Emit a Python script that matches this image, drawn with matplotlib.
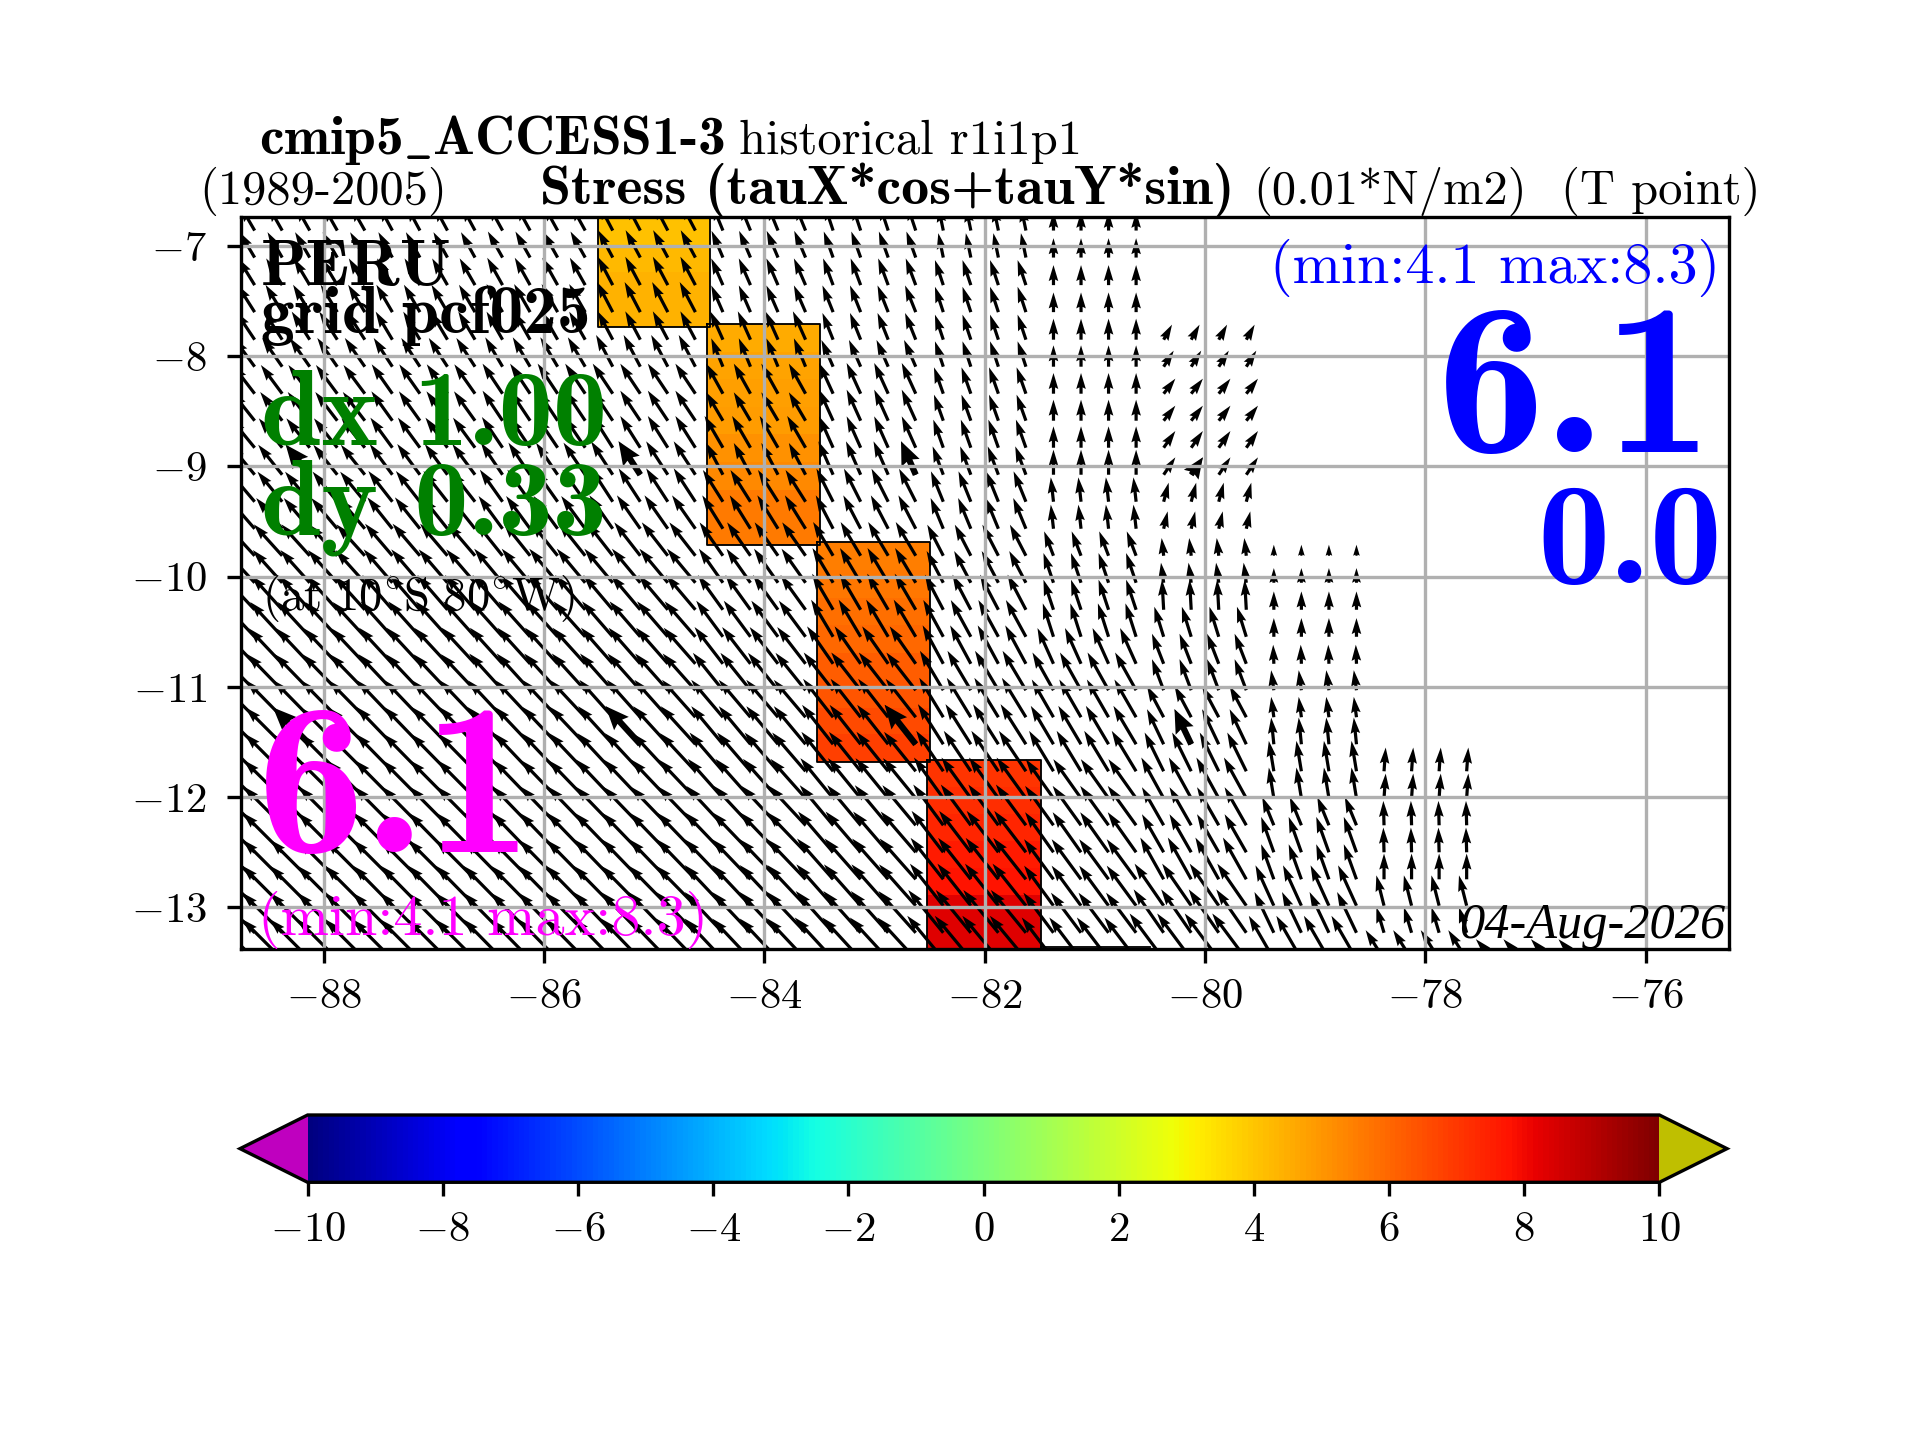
import numpy as np
import matplotlib
matplotlib.use("Agg")
import matplotlib.pyplot as plt
from matplotlib.colors import Normalize
from matplotlib.cm import ScalarMappable

plt.rcParams['font.family'] = ['cmr10', 'DejaVu Serif']
plt.rcParams['mathtext.fontset'] = 'cm'
plt.rcParams['axes.formatter.use_mathtext'] = True
plt.rcParams['axes.unicode_minus'] = False

BOLD = ['cmb10', 'cmr10', 'DejaVu Serif']

x_ticks = [-88, -86, -84, -82, -80, -78, -76]
y_ticks = [-13, -12, -11, -10, -9, -8, -7]
cb_ticks = [-10, -8, -6, -4, -2, 0, 2, 4, 6, 8, 10]

# coloured coastal strip: lon edges, lat edges (top to bottom), values
col_lon = [[-85.511, -84.492], [-84.522, -83.494], [-83.518, -82.495], [-82.525, -81.491]]
col_lat = [
    [-6.74, -6.99, -7.24, -7.49, -7.738],
    [-7.71, -7.96, -8.21, -8.46, -8.71, -8.96, -9.21, -9.46, -9.713],
    [-9.689, -9.94, -10.19, -10.44, -10.69, -10.94, -11.19, -11.43, -11.68],
    [-11.66, -11.905, -12.15, -12.395, -12.64, -12.885, -13.13, -13.38],
]
col_val = [
    [4.1, 4.25, 4.45, 4.45],
    [4.55, 4.7, 4.8, 4.85, 5.1, 5.25, 5.6, 5.6],
    [5.5, 5.65, 5.8, 5.95, 6.2, 6.4, 6.6, 6.8],
    [7.1, 7.25, 7.4, 7.6, 7.8, 8.3, 8.3],
]
next_cell_lon = [-81.491, -80.498]
next_cell_top = -13.36

# wind stress arrows: model boxes 1 degree wide, each drawn as four columns
box_lon = [-89, -88, -87, -86, -85, -84, -83, -82, -81, -80, -79, -78, -77]
quarter = [-0.375, -0.125, 0.125, 0.375]
row_lat = [-6.86, -7.105, -7.355, -7.60, -7.85, -8.095, -8.34, -8.585, -8.83, -9.075,
           -9.32, -9.565, -9.81, -10.055, -10.30, -10.545, -10.79, -11.03, -11.275, -11.52,
           -11.765, -12.01, -12.255, -12.50, -12.745, -12.985, -13.23, -13.47]
n = np.nan
U_rows = [
    [-43, -42, -40, -42, -42, -32, -26, -15, 0, n, n, n, n],
    [-45, -44, -42, -44, -44, -34, -28, -15, 0, n, n, n, n],
    [-49, -48, -46, -46, -45, -35, -30, -25, 0, n, n, n, n],
    [-52, -50, -48, -48, -47, -35, -32, -25, 0, n, n, n, n],
    [-56, -54, -50, -48, -45, -38, -32, -25, 0, 25, n, n, n],
    [-62, -60, -56, -52, -50, -35, -35, -25, 0, 30, n, n, n],
    [-66, -64, -62, -60, -60, -50, -42, -28, 0, 35, n, n, n],
    [-68, -66, -63, -60, -60, -50, -42, -28, 0, 35, n, n, n],
    [-72, -70, -66, -62, -60, -55, -42, -30, 0, 35, n, n, n],
    [-74, -72, -68, -65, -65, -50, -44, -32, 0, 35, n, n, n],
    [-76, -74, -72, -68, -65, -60, -50, -37, -8, 15, n, n, n],
    [-80, -78, -75, -72, -70, -62, -52, -38, -8, 12, n, n, n],
    [-86, -85, -82, -80, -78, -70, -60, -48, -28, -6, 0, n, n],
    [-90, -88, -86, -85, -85, -72, -62, -50, -30, -8, 0, n, n],
    [-94, -92, -90, -90, -88, -75, -63, -55, -30, -5, 0, n, n],
    [-98, -96, -95, -95, -92, -80, -66, -60, -32, -28, 0, n, n],
    [-102, -100, -100, -98, -95, -85, -78, -62, -48, -35, -2, n, n],
    [-106, -105, -102, -100, -98, -90, -88, -70, -63, -35, -8, n, n],
    [-110, -108, -105, -103, -100, -95, -90, -72, -65, -50, -8, n, n],
    [-112, -110, -108, -106, -104, -95, -93, -76, -68, -50, -8, n, n],
    [-114, -112, -110, -108, -106, -100, -95, -81, -73, -57, -15, 5, n],
    [-116, -115, -113, -110, -110, -105, -98, -88, -83, -67, -15, 5, n],
    [-118, -116, -115, -112, -112, -110, -100, -90, -85, -65, -35, -2, n],
    [-120, -118, -116, -114, -114, -115, -105, -95, -85, -65, -38, -2, n],
    [-120, -118, -118, -116, -116, -115, -108, -98, -88, -70, -38, 0, n],
    [-122, -120, -118, -118, -118, -115, -110, -100, -88, -87, -55, -23, n],
    [-122, -120, -120, -118, -118, -115, -112, -105, -90, -90, -58, -23, n],
    [-122, -120, -120, -118, -118, -115, -115, -108, -95, -102, -75, -55, -55],
]
V_rows = [
    [74, 74, 74, 76, 80, 78, 78, 73, 56, n, n, n, n],
    [76, 76, 76, 78, 82, 80, 78, 73, 58, n, n, n, n],
    [80, 80, 80, 82, 85, 80, 80, 75, 60, n, n, n, n],
    [82, 82, 82, 84, 90, 80, 80, 76, 59, n, n, n, n],
    [84, 84, 84, 84, 85, 85, 80, 75, 63, 45, n, n, n],
    [85, 86, 86, 88, 95, 85, 80, 76, 64, 48, n, n, n],
    [86, 86, 88, 90, 90, 90, 92, 79, 62, 45, n, n, n],
    [86, 86, 88, 90, 90, 85, 93, 78, 63, 45, n, n, n],
    [88, 88, 90, 92, 95, 95, 94, 84, 64, 50, n, n, n],
    [90, 90, 92, 96, 100, 95, 100, 85, 75, 52, n, n, n],
    [90, 90, 92, 96, 100, 95, 99, 91, 73, 57, n, n, n],
    [92, 92, 94, 98, 100, 100, 100, 92, 72, 52, n, n, n],
    [94, 94, 96, 100, 100, 100, 101, 93, 73, 53, 33, n, n],
    [98, 98, 100, 102, 102, 102, 104, 95, 89, 60, 44, n, n],
    [100, 102, 104, 104, 104, 104, 108, 105, 90, 90, 55, n, n],
    [104, 104, 106, 106, 106, 108, 111, 110, 100, 90, 56, n, n],
    [106, 106, 108, 108, 108, 110, 112, 115, 107, 90, 57, n, n],
    [108, 108, 108, 110, 110, 112, 113, 118, 113, 93, 60, n, n],
    [110, 110, 110, 110, 112, 112, 115, 118, 113, 94, 61, n, n],
    [110, 110, 112, 112, 114, 114, 118, 120, 115, 105, 80, n, n],
    [112, 112, 112, 114, 114, 116, 118, 121, 121, 116, 91, 71, n],
    [114, 114, 114, 114, 116, 118, 120, 122, 117, 122, 92, 74, n],
    [116, 116, 116, 116, 116, 118, 120, 122, 118, 114, 85, 73, n],
    [118, 118, 118, 118, 118, 120, 122, 124, 120, 114, 106, 74, n],
    [118, 118, 118, 118, 120, 120, 122, 124, 120, 125, 105, 77, n],
    [120, 120, 120, 120, 120, 122, 124, 126, 120, 126, 121, 91, n],
    [120, 120, 120, 120, 122, 122, 125, 128, 120, 130, 122, 77, n],
    [120, 120, 120, 120, 122, 122, 125, 130, 125, 137, 130, 87, 60],
]
# heavier reference arrows: row index, box longitude, column-in-box index
heavy_rows = [9, 19]
heavy_boxes = [-88, -85, -83, -80]
heavy_column = [1, 1, 3, 1]

W, H = 1920, 1440
fig = plt.figure(figsize=(8, 6), dpi=240)
ax = fig.add_axes([241 / W, 1 - 949.3 / H, (1729 - 241) / W, (949.3 - 217) / H])
ax.set_xlim(-88.749, -75.244)
ax.set_ylim(-13.38, -6.737)

cmap = plt.get_cmap('jet').copy()
cmap.set_under((0.75, 0, 0.75))
cmap.set_over((0.75, 0.75, 0))
norm = Normalize(-10, 10)

for lons, lats, vals in zip(col_lon, col_lat, col_val):
    ax.pcolormesh(lons, lats, np.array(vals).reshape(-1, 1), cmap=cmap, norm=norm, zorder=0.3)
    ax.plot([lons[0], lons[1], lons[1], lons[0], lons[0]],
            [lats[0], lats[0], lats[-1], lats[-1], lats[0]],
            color='k', lw=0.55, zorder=0.6)
ax.plot(next_cell_lon, [next_cell_top, next_cell_top], color='k', lw=0.55, zorder=0.6)

U = np.array(U_rows, float)
V = np.array(V_rows, float)
Xs, Ys, Us, Vs = [], [], [], []
hX, hY, hU, hV = [], [], [], []
for r, lat in enumerate(row_lat):
    for b, lon in enumerate(box_lon):
        if np.isnan(U[r, b]):
            continue
        for q, off in enumerate(quarter):
            Xs.append(lon + off); Ys.append(lat); Us.append(U[r, b]); Vs.append(V[r, b])
            if r in heavy_rows and lon in heavy_boxes and heavy_column[heavy_boxes.index(lon)] == q:
                hX.append(lon + off); hY.append(lat); hU.append(U[r, b]); hV.append(V[r, b])

ax.quiver(Xs, Ys, Us, Vs, angles='xy', scale_units='xy', scale=330, units='dots',
          width=3.2, color='k', zorder=1)
ax.quiver(hX, hY, hU, hV, angles='xy', scale_units='xy', scale=330, units='dots',
          width=6.2, headwidth=3.2, headlength=3.8, headaxislength=3.4, color='k', zorder=1)

ax.set_xticks(x_ticks, labels=[f'${v}$' for v in x_ticks], fontsize=12.8)
ax.set_yticks(y_ticks, labels=[f'${v}$' for v in y_ticks], fontsize=12.8)
ax.tick_params(axis='x', length=4.2, width=1.0, pad=4.6)
ax.tick_params(axis='y', length=4.2, width=1.0, pad=6.0)
ax.grid(True, color='#b0b0b0', lw=1.0)
for s in ax.spines.values():
    s.set_linewidth(1.0)


def put(px, py, s, size, color='k', family=None, ha='left', **kw):
    fig.text(px / W, 1 - py / H, s, fontsize=size, color=color, ha=ha, va='baseline',
             family=family if family else ['cmr10', 'DejaVu Serif'], zorder=5, **kw)


put(259, 154, r'$\mathbf{cmip}$5$\mathbf{\_ACCESS}$1-3', 16.6, family=BOLD)
put(739, 154, 'historical r1i1p1', 14.55)
put(199, 204, '(1989-2005)', 14.55)
put(540, 204, 'Stress (tauX*cos+tauY*sin)', 16.75, family=BOLD)
put(1253, 204, '(0.01*N/m2)', 14.55)
put(1561, 204, '(T point)', 14.55)

put(261, 285, 'PERU', 20.0, family=BOLD)
put(261, 333, 'grid pcf025', 20.2, family=BOLD)
put(261, 445, 'dx 1.00', 32.5, color='green', family=BOLD)
put(261, 534, 'dy 0.33', 32.5, color='green', family=BOLD)
put(262, 610, r'$\mathrm{(at\ 10^{\circ}S\ 80^{\circ}W)}$', 14.0)
put(257, 852, '6.1', 65, color='magenta', family=BOLD)
put(258, 935, '(min:4.1 max:8.3)', 17.45, color='magenta')
put(1720, 283, '(min:4.1 max:8.3)', 17.45, color='blue', ha='right')
put(1713, 452, '6.1', 65, color='blue', family=BOLD, ha='right')
put(1722, 583, '0.0', 43.5, color='blue', family=BOLD, ha='right')
put(1725, 938, '04-Aug-2026', 15.1, family=['Liberation Serif'], ha='right', style='italic')

cax = fig.add_axes([240 / W, 1 - 1182.3 / H, (1727 - 240) / W, (1182.3 - 1115) / H])
cb = fig.colorbar(ScalarMappable(norm=norm, cmap=cmap), cax=cax, orientation='horizontal', extend='both')
cb.set_ticks(cb_ticks, labels=[f'${v}$' for v in cb_ticks], fontsize=12.8)
cb.ax.tick_params(labelsize=12.8, length=4.2, width=1.0, pad=4.6)
cb.outline.set_linewidth(1.0)

fig.savefig('out.png', dpi=240)
